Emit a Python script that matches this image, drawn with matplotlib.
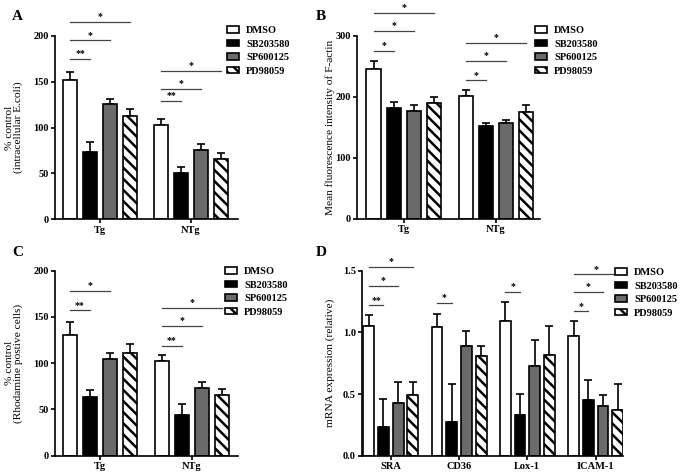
import numpy as np
import matplotlib
matplotlib.use('Agg')
from matplotlib import pyplot as plt
from matplotlib.transforms import blended_transform_factory

plt.rcParams['font.family'] = ['Liberation Serif', 'DejaVu Serif']
plt.rcParams['font.weight'] = 'bold'
plt.rcParams['hatch.linewidth'] = 1.8

# data
treatments = ['DMSO', 'SB203580', 'SP600125', 'PD98059']
groups_ab = ['Tg', 'NTg']
genes = ['SRA', 'CD36', 'Lox-1', 'ICAM-1']

# values[group][treatment]
a_vals = [[152, 73, 126, 112], [103, 50, 75, 66]]
a_errs = [[9, 11, 5, 8], [6, 7, 7, 6]]
b_vals = [[245, 182, 176, 190], [202, 153, 157, 175]]
b_errs = [[14, 9, 11, 9], [9, 3.5, 5.5, 11]]
c_vals = [[130, 63, 105, 111], [102, 44, 73, 66]]
c_errs = [[15, 8, 6.5, 10], [6.5, 12, 6.5, 6.5]]
d_vals = [[1.05, 0.23, 0.43, 0.49], [1.04, 0.27, 0.89, 0.81],
          [1.09, 0.33, 0.73, 0.82], [0.97, 0.45, 0.40, 0.37]]
d_errs = [[0.09, 0.23, 0.17, 0.11], [0.11, 0.31, 0.12, 0.08],
          [0.16, 0.17, 0.21, 0.23], [0.12, 0.16, 0.09, 0.21]]

# significance: (group, compared treatment, height, label)
a_sig = [(0, 1, 175, '**'), (0, 2, 195, '*'), (0, 3, 215, '*'),
         (1, 1, 129, '**'), (1, 2, 142, '*'), (1, 3, 162, '*')]
b_sig = [(0, 1, 275, '*'), (0, 2, 308, '*'), (0, 3, 337, '*'),
         (1, 1, 227, '*'), (1, 2, 259, '*'), (1, 3, 288, '*')]
c_sig = [(0, 1, 157, '**'), (0, 2, 178, '*'),
         (1, 1, 119, '**'), (1, 2, 140, '*'), (1, 3, 160, '*')]
d_sig = [(0, 1, 1.22, '**'), (0, 2, 1.38, '*'), (0, 3, 1.53, '*'),
         (1, 1, 1.24, '*'), (2, 1, 1.33, '*'),
         (3, 1, 1.17, '*'), (3, 2, 1.33, '*'), (3, 3, 1.47, '*')]

styles = [dict(color='white'), dict(color='black'),
          dict(color='#6a6a6a'), dict(color='white', hatch='\\\\\\')]

W, H = 683, 475
fig = plt.figure(figsize=(W / 100, H / 100), dpi=100)


def px_axes(x0, x1, ytop, ybot):
    return fig.add_axes([x0 / W, 1 - ybot / H, (x1 - x0) / W, (ybot - ytop) / H])


def panel(ax, labels, vals, errs, sig, ylim, yticks, xlim, step, width, ylabel,
          leg_xy, letter_xy, letter, ylab_x, tick_fmt='{:g}'):
    vals = np.array(vals)
    errs = np.array(errs)
    xc = np.arange(len(labels))
    offs = (np.arange(4) - 1.5) * step
    for j in range(4):
        ax.bar(xc + offs[j], vals[:, j], width, edgecolor='black', linewidth=1.2,
               label=treatments[j], zorder=2, **styles[j])
        ax.errorbar(xc + offs[j], vals[:, j], yerr=[np.zeros(len(xc)), errs[:, j]],
                    fmt='none', ecolor='black', elinewidth=1.2, capsize=3.2,
                    capthick=1.2, zorder=1)
    for g, t, y, lab in sig:
        x0 = xc[g] + offs[0]
        x1 = xc[g] + offs[t]
        ax.plot([x0, x1], [y, y], color='#444444', lw=0.9, clip_on=False)
        ax.annotate(lab, ((x0 + x1) / 2, y), xytext=(0, 0.5), textcoords='offset points',
                    ha='center', va='bottom', fontsize=7, annotation_clip=False)
    ax.set_xlim(*xlim)
    ax.set_ylim(*ylim)
    ax.set_yticks(yticks)
    ax.set_yticklabels([tick_fmt.format(v) for v in yticks])
    ax.set_xticks(xc)
    ax.set_xticklabels(labels, fontsize=8)
    for s in ['top', 'right']:
        ax.spines[s].set_visible(False)
    for s in ['left', 'bottom']:
        ax.spines[s].set_linewidth(1.2)
    ax.tick_params(direction='out', length=3, width=1.2, labelsize=7.5, pad=1.5)
    ax.set_ylabel(ylabel, fontsize=8.2, linespacing=1.0, va='center')
    ax.yaxis.set_label_coords(ylab_x, 0.5,
                              transform=blended_transform_factory(fig.transFigure, ax.transAxes))
    ax.legend(loc='upper left', bbox_to_anchor=(leg_xy[0] / W, 1 - leg_xy[1] / H),
              bbox_transform=fig.transFigure, frameon=False, fontsize=7.5,
              borderpad=0, borderaxespad=0, handlelength=1.15, handleheight=0.65,
              handletextpad=0.7, labelspacing=0.42)
    fig.text(letter_xy[0] / W, 1 - letter_xy[1] / H, letter, fontsize=11,
             ha='left', va='center')


ax_a = px_axes(55, 238, 35.7, 219.3)
panel(ax_a, groups_ab, a_vals, a_errs, a_sig, (0, 200), [0, 50, 100, 150, 200],
      (-0.495, 1.516), 0.22, 0.154, '% control\n(intracellular E.coli)',
      (227, 26), (12, 17), 'A', 14 / W)

ax_b = px_axes(357, 540, 35.7, 219)
panel(ax_b, groups_ab, b_vals, b_errs, b_sig, (0, 300), [0, 100, 200, 300],
      (-0.51, 1.478), 0.22, 0.154, 'Mean fluorescence intensity of F-actin',
      (535, 26), (316, 17), 'B', 330 / W)

ax_c = px_axes(55, 238, 270.7, 455.7)
panel(ax_c, groups_ab, c_vals, c_errs, c_sig, (0, 200), [0, 50, 100, 150, 200],
      (-0.49, 1.5), 0.22, 0.154, '% control\n(Rhodamine postive cells)',
      (225, 267), (12, 252), 'C', 14 / W)

ax_d = px_axes(362, 623, 270.7, 455.7)
panel(ax_d, genes, d_vals, d_errs, d_sig, (0, 1.5), [0.0, 0.5, 1.0, 1.5],
      (-0.42, 3.40), 0.215, 0.16, 'mRNA expression (relative)',
      (615, 268), (316, 252), 'D', 330 / W, tick_fmt='{:.1f}')

fig.savefig('out.png', dpi=100)
